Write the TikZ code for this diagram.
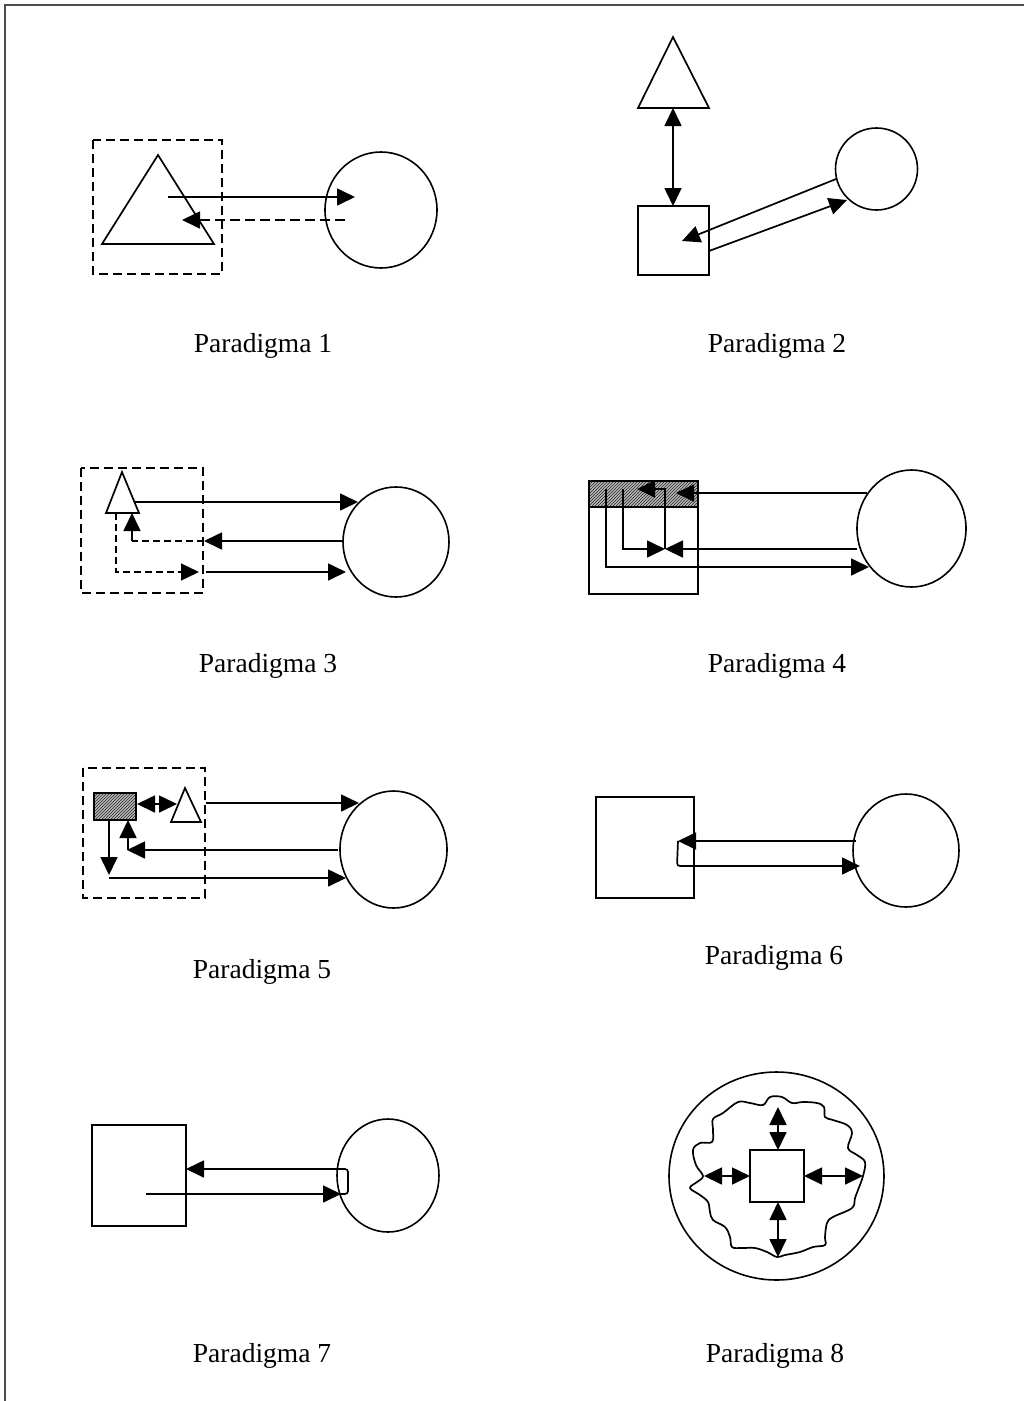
\documentclass[tikz,border=0pt]{standalone}
\usepackage{fontspec}
\setmainfont{Liberation Serif}
\usetikzlibrary{arrows.meta,shapes.geometric,patterns}
\begin{document}
\begin{tikzpicture}[x=1pt,y=-1pt,
  ln/.style={line width=1.7pt},
  arr/.style={ln,-{Triangle[length=18pt,width=17pt]}},
  dbl/.style={ln,{Triangle[length=18pt,width=17pt]}-{Triangle[length=18pt,width=17pt]}},
  dbox/.style={line width=1.7pt,dash pattern=on 9pt off 5pt},
  dln/.style={dash pattern=on 7pt off 4pt},
  circ/.style={ellipse,draw,line width=1.6pt,inner sep=0pt},
  sq/.style={rectangle,draw,line width=1.6pt,inner sep=0pt},
  lbl/.style={anchor=base,font=\fontsize{27.5}{30}\selectfont},
  hatchfill/.style={fill=gray!55,postaction={pattern=north east lines,pattern color=black!85}},
]
\useasboundingbox (0,0) rectangle (1024,1401);
\fill[white] (0,0) rectangle (1024,1401);
% frame
\draw[line width=2pt,black!70] (5,1401) -- (5,5) -- (1024,5);

% ---------- Paradigma 1 ----------
\draw[dbox] (93,140) rectangle (222,274);
\draw[ln,line join=miter] (158,155) -- (102,244) -- (214,244) -- cycle;
\node[circ,minimum width=112pt,minimum height=116pt] (c1) at (381,210) {};
\coordinate (p1a) at (168,197); \coordinate (p1b) at (355,197);
\coordinate (p1c) at (345,220); \coordinate (p1d) at (182,220);
\draw[arr] (p1a) -- (p1b);
\draw[arr,dash pattern=on 10pt off 5pt] (p1c) -- (p1d);
\node[lbl] (l1) at (263,352) {Paradigma 1};

% ---------- Paradigma 2 ----------
\draw[ln] (673,37) -- (638,108) -- (709,108) -- cycle;
\node[sq,minimum width=71pt,minimum height=69pt] (s2) at (673.5,240.5) {};
\node[circ,minimum width=82pt,minimum height=82pt] (c2) at (876.5,169) {};
\coordinate (p2a) at (673,108); \coordinate (p2b) at (673,206);
\coordinate (p2c) at (836,179); \coordinate (p2d) at (682,241);
\coordinate (p2e) at (709,251); \coordinate (p2f) at (847,200);
\draw[dbl] (p2a) -- (p2b);
\draw[arr] (p2c) -- (p2d);
\draw[arr] (p2e) -- (p2f);
\node[lbl] (l2) at (777,352) {Paradigma 2};

% ---------- Paradigma 3 ----------
\draw[dbox] (81,468) rectangle (203,593);
\draw[ln] (122,472) -- (106,513) -- (139,513) -- cycle;
\node[circ,minimum width=106pt,minimum height=110pt] (c3) at (396,542) {};
\coordinate (p3a) at (135,502); \coordinate (p3b) at (358,502);
\coordinate (p3c) at (343,541); \coordinate (p3d) at (204,541);
\coordinate (p3e) at (132,541); \coordinate (p3f) at (132,513);
\coordinate (p3g) at (116,513); \coordinate (p3h) at (116,572);
\coordinate (p3i) at (199,572);
\coordinate (p3j) at (206,572); \coordinate (p3k) at (346,572);
\draw[arr] (p3a) -- (p3b);
\draw[arr] (p3c) -- (p3d);
\draw[line width=1.4pt,dln] (p3d) -- (p3e);
\draw[arr] (p3e) -- (p3f);
\draw[arr,line width=1.4pt,dln] (p3g) -- (p3h) -- (p3i);
\draw[arr] (p3j) -- (p3k);
\node[lbl] (l3) at (268,672) {Paradigma 3};

% ---------- Paradigma 4 ----------
\path[hatchfill] (589,481) rectangle (698,507);
\draw[ln] (589,507) -- (698,507);
\node[sq,minimum width=109pt,minimum height=113pt] (s4) at (643.5,537.5) {};
\node[circ,minimum width=109pt,minimum height=117pt] (c4) at (911.5,528.5) {};
\coordinate (p4a) at (867,493); \coordinate (p4b) at (676,493);
\coordinate (p4c) at (665,549); \coordinate (p4d) at (665,489); \coordinate (p4e) at (637,489);
\coordinate (p4f) at (857,549);
\coordinate (p4g) at (623,489); \coordinate (p4h) at (623,549);
\coordinate (p4i) at (606,489); \coordinate (p4j) at (606,567); \coordinate (p4k) at (869,567);
\draw[arr] (p4a) -- (p4b);
\draw[arr] (p4c) -- (p4d) -- (p4e);
\draw[arr] (p4f) -- (p4c);
\draw[arr] (p4g) -- (p4h) -- (p4c);
\draw[arr] (p4i) -- (p4j) -- (p4k);
\node[lbl] (l4) at (777,672) {Paradigma 4};

% ---------- Paradigma 5 ----------
\draw[dbox] (83,768) rectangle (205,898);
\path[hatchfill] (94,793) rectangle (136,820);
\node[sq,minimum width=42pt,minimum height=27pt] (r5) at (115,806.5) {};
\draw[ln] (185,788) -- (171,822) -- (201,822) -- cycle;
\node[circ,minimum width=107pt,minimum height=117pt] (c5) at (393.5,849.5) {};
\coordinate (p5a) at (137,804); \coordinate (p5b) at (177,804);
\coordinate (p5c) at (206,803); \coordinate (p5d) at (359,803);
\coordinate (p5e) at (338,850); \coordinate (p5f) at (127,850);
\coordinate (p5g) at (128,850); \coordinate (p5h) at (128,820);
\coordinate (p5i) at (109,820); \coordinate (p5j) at (109,875);
\coordinate (p5k) at (109,878); \coordinate (p5l) at (346,878);
\draw[dbl] (p5a) -- (p5b);
\draw[arr] (p5c) -- (p5d);
\draw[arr] (p5e) -- (p5f);
\draw[arr] (p5g) -- (p5h);
\draw[arr] (p5i) -- (p5j);
\draw[arr] (p5k) -- (p5l);
\node[lbl] (l5) at (262,978) {Paradigma 5};

% ---------- Paradigma 6 ----------
\node[sq,minimum width=98pt,minimum height=101pt] (s6) at (645,847.5) {};
\node[circ,minimum width=106pt,minimum height=113pt] (c6) at (906,850.5) {};
\coordinate (p6a) at (856,841); \coordinate (p6b) at (678,841);
\coordinate (p6c) at (677,866); \coordinate (p6d) at (860,866);
\draw[arr] (p6a) -- (p6b);
\draw[arr,rounded corners=3pt] (p6b) -- (p6c) -- (p6d);
\node[lbl] (l6) at (774,964) {Paradigma 6};

% ---------- Paradigma 7 ----------
\node[sq,minimum width=94pt,minimum height=101pt] (s7) at (139,1175.5) {};
\node[circ,minimum width=102pt,minimum height=113pt] (c7) at (388,1175.5) {};
\coordinate (p7a) at (146,1194); \coordinate (p7b) at (341,1194);
\coordinate (p7c) at (336,1194); \coordinate (p7d) at (348,1194);
\coordinate (p7e) at (348,1169); \coordinate (p7f) at (186,1169);
\draw[arr] (p7a) -- (p7b);
\draw[arr,rounded corners=3pt] (p7c) -- (p7d) -- (p7e) -- (p7f);
\node[lbl] (l7) at (262,1362) {Paradigma 7};

% ---------- Paradigma 8 ----------
\node[circ,minimum width=215pt,minimum height=208pt] (c8) at (776.5,1176) {};
\draw[ln] plot[smooth cycle,tension=0.6] coordinates {
 (703,1176) (696,1165) (693,1150) (700,1143) (712,1142) (713,1130) (713,1119)
 (723,1113) (738,1102) (750,1103) (763,1105) (770,1097) (782,1097) (792,1103)
 (803,1102) (817,1103) (824,1107) (825,1117) (833,1120) (847,1125) (852,1133)
 (848,1148) (857,1155) (865,1162) (863,1176) (858,1190) (855,1198) (852,1208)
 (833,1217) (827,1223) (825,1237) (825,1245) (813,1247) (800,1252) (785,1255)
 (777,1257) (767,1252) (755,1248) (742,1248) (732,1247) (730,1237) (725,1227)
 (713,1220) (710,1212) (708,1202) (700,1195) (690,1188) (697,1182)};
\node[sq,minimum width=54pt,minimum height=52pt] (s8) at (777,1176) {};
\coordinate (p8a) at (778,1107); \coordinate (p8b) at (778,1150);
\coordinate (p8c) at (778,1202); \coordinate (p8d) at (778,1257);
\coordinate (p8e) at (704,1176); \coordinate (p8f) at (750,1176);
\coordinate (p8g) at (804,1176); \coordinate (p8h) at (863,1176);
\draw[dbl] (p8a) -- (p8b);
\draw[dbl] (p8c) -- (p8d);
\draw[dbl] (p8e) -- (p8f);
\draw[dbl] (p8g) -- (p8h);
\node[lbl] (l8) at (775,1362) {Paradigma 8};
\end{tikzpicture}
\end{document}
